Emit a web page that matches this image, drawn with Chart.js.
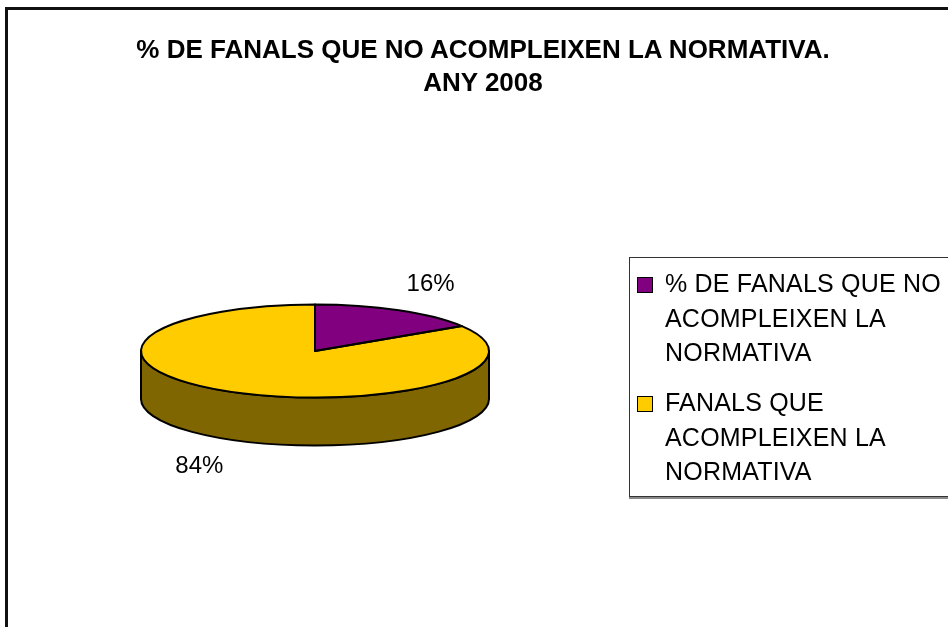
<!DOCTYPE html>
<html>
<head>
<meta charset="utf-8">
<script src="https://cdn.jsdelivr.net/npm/chart.js@4/dist/chart.umd.min.js"></script>
<style>
  html, body { margin:0; padding:0; background:#fff; width:948px; height:627px; overflow:hidden; }
  body { position:relative; font-family:"Liberation Sans", Arial, sans-serif; }
  #c { position:absolute; left:0; top:0; }
  #frame { position:absolute; left:5px; top:7px; width:1200px; height:900px;
           border-left:3px solid #111; border-top:3px solid #111; box-sizing:border-box; }
  #title { position:absolute; left:0; top:33px; width:966px; text-align:center;
           font-weight:bold; font-size:26px; line-height:33px; color:#000; letter-spacing:0px; }
  #legend { position:absolute; left:629px; top:257px; width:400px; height:238px;
            border:1px solid #333; border-right:none; box-shadow:0 2px 0 #888; background:#fff; }
  .item { position:absolute; left:0; width:400px; }
  .sw { position:absolute; left:7px; width:14px; height:14px; border:1.5px solid #000; }
  .tx { position:absolute; left:35px; width:290px; font-size:25px; line-height:34.5px; color:#000; letter-spacing:0.2px; }
</style>
</head>
<body>
<canvas id="c" width="948" height="627"></canvas>
<div id="frame"></div>
<div id="title"></div>
<div id="legend"></div>
<script>
// ---- data ----
const titleLines = ["% DE FANALS QUE NO ACOMPLEIXEN LA NORMATIVA.", "ANY 2008"];
const categories = ["% DE FANALS QUE NO ACOMPLEIXEN LA NORMATIVA", "FANALS QUE ACOMPLEIXEN LA NORMATIVA"];
const values = [16, 84];
// ---- styles ----
const topColors = ["#800080", "#FFCC00"];
const sideColors = ["#400040", "#806600"];
const RATIO = 46.5 / 174;   // vertical squash of the tilted pie
const DEPTH = 48;           // thickness of the pie in px

document.getElementById('title').innerHTML = titleLines.join('<br>');

// legend
const legend = document.getElementById('legend');
const itemTops = [8, 127];
categories.forEach((cat, i) => {
  const it = document.createElement('div');
  it.className = 'item';
  it.style.top = itemTops[i] + 'px';
  const sw = document.createElement('div');
  sw.className = 'sw';
  sw.style.top = '11px';
  sw.style.background = topColors[i];
  const tx = document.createElement('div');
  tx.className = 'tx';
  tx.style.top = '0px';
  tx.textContent = cat;
  it.appendChild(sw); it.appendChild(tx);
  legend.appendChild(it);
});

const total = values.reduce((a, b) => a + b, 0);

const pie3d = {
  id: 'pie3d',
  beforeDatasetsDraw(chart) {
    const ctx = chart.ctx;
    const arcs = chart.getDatasetMeta(0).data;
    const {x: cx, y: cy, outerRadius: rx} = arcs[0].getProps(['x', 'y', 'outerRadius'], true);
    const ry = rx * RATIO;
    ctx.save();
    arcs.forEach((arc, i) => {
      const p = arc.getProps(['startAngle', 'endAngle'], true);
      for (const k of [-2, 0, 2]) {
        const lo = Math.max(p.startAngle, k * Math.PI);
        const hi = Math.min(p.endAngle, (k + 1) * Math.PI);
        if (hi <= lo) continue;
        ctx.beginPath();
        ctx.ellipse(cx, cy, rx, ry, 0, lo, hi);
        ctx.ellipse(cx, cy + DEPTH, rx, ry, 0, hi, lo, true);
        ctx.closePath();
        ctx.fillStyle = sideColors[i];
        ctx.fill();
        ctx.lineWidth = 2;
        ctx.strokeStyle = '#000';
        ctx.lineJoin = 'round';
        ctx.stroke();
      }
    });
    ctx.restore();
    ctx.save();
    ctx.translate(cx, cy);
    ctx.scale(1, RATIO);
    ctx.translate(-cx, -cy);
  },
  afterDatasetsDraw(chart) {
    const ctx = chart.ctx;
    ctx.restore();
    const arcs = chart.getDatasetMeta(0).data;
    const {x: cx, y: cy, outerRadius: rx} = arcs[0].getProps(['x', 'y', 'outerRadius'], true);
    const ry = rx * RATIO;
    ctx.save();
    ctx.lineWidth = 2;
    ctx.strokeStyle = '#000';
    ctx.lineJoin = 'round';
    arcs.forEach((arc) => {
      const p = arc.getProps(['startAngle', 'endAngle'], true);
      ctx.beginPath();
      ctx.moveTo(cx, cy);
      ctx.ellipse(cx, cy, rx, ry, 0, p.startAngle, p.endAngle);
      ctx.closePath();
      ctx.stroke();
    });
    // percentage labels
    ctx.fillStyle = '#000';
    ctx.font = '24px "Liberation Sans", Arial, sans-serif';
    ctx.textAlign = 'center';
    ctx.textBaseline = 'middle';
    arcs.forEach((arc, i) => {
      const p = arc.getProps(['startAngle', 'endAngle'], true);
      const m = (p.startAngle + p.endAngle) / 2;
      const s = Math.sin(m), c = Math.cos(m);
      const lx = cx + (rx + 66) * c;
      const ly = cy + (ry + 30) * s + (s > 0 ? DEPTH : 0);
      ctx.fillText(Math.round(values[i] / total * 100) + '%', lx, ly);
    });
    ctx.restore();
  }
};

new Chart(document.getElementById('c'), {
  type: 'pie',
  data: {
    labels: categories,
    datasets: [{
      data: values,
      backgroundColor: topColors,
      borderWidth: 0,
      hoverOffset: 0
    }]
  },
  options: {
    responsive: false,
    animation: false,
    events: [],
    devicePixelRatio: 1,
    layout: { padding: { left: 141, right: 459, top: 150, bottom: 75 } },
    plugins: {
      legend: { display: false },
      title: { display: false },
      tooltip: { enabled: false }
    }
  },
  plugins: [pie3d]
});
</script>
</body>
</html>
